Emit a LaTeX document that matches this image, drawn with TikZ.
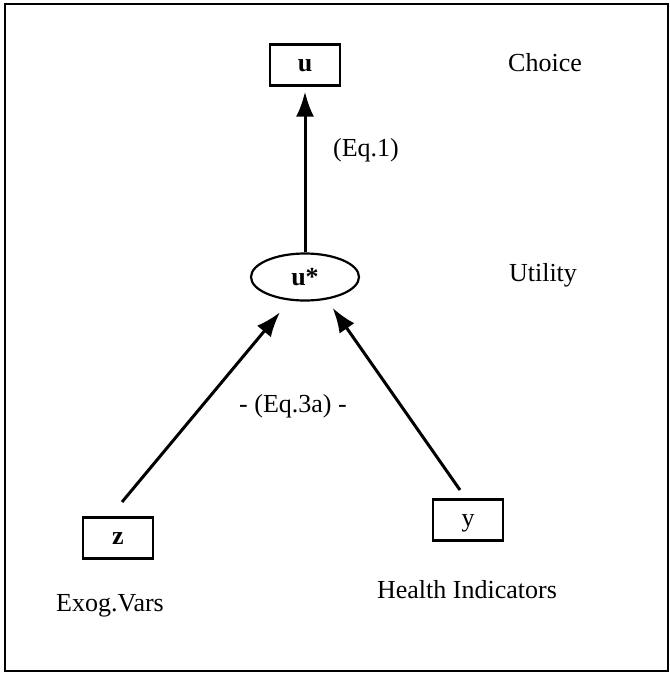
\documentclass[tikz,border=0pt]{standalone}
\usepackage{fontspec}
\setmainfont{Liberation Serif}
\usepackage{tikz}
\usetikzlibrary{arrows.meta,shapes.geometric}
\tikzstyle{Variable}=[minimum width=70pt, minimum height=41pt, inner sep=0pt, text height=12pt, text depth=0pt, fill=white, line width=2.2pt, draw=black, shape=rectangle, text=black, font=\fontsize{26}{30}\selectfont]
\tikzstyle{Latent}=[minimum width=108pt, minimum height=47pt, inner sep=0pt, fill=white, line width=2.2pt, draw=black, shape=ellipse, text=black, font=\fontsize{26}{30}\selectfont]
\tikzstyle{Label}=[inner sep=0pt, text=black, font=\fontsize{26}{30}\selectfont]
\tikzstyle{arrow}=[line width=3pt, -{Latex[length=25pt,width=18pt]}]
\pgfdeclarelayer{nodelayer}
\pgfdeclarelayer{edgelayer}
\pgfsetlayers{nodelayer, edgelayer}

\begin{document}
\begin{tikzpicture}[x=1pt, y=-1pt]
	\useasboundingbox (0,0) rectangle (670,673);
	\begin{pgfonlayer}{nodelayer}
		\node [style=Variable] (choice) at (305, 65) {\textbf{u}};
		\node [style=Latent] (utility) at (305, 277) {\textbf{u*}};
		\node [style=Variable] (exog) at (118, 538) {\textbf{z}};
		\node [style=Variable] (health) at (468, 520) {y};
		% side labels
		\node [style=Label] (choice_lbl) at (545, 63) {Choice};
		\node [style=Label] (utility_lbl) at (543, 275) {Utility};
		\node [style=Label] (exog_lbl) at (110, 606) {Exog.Vars};
		\node [style=Label] (health_lbl) at (467, 590) {Health Indicators};
		% equation labels
		\node [style=Label] (eq_one) at (366, 150) {(Eq.1)};
		\node [style=Label] (eq_three) at (293, 406) {- (Eq.3a) -};
		\coordinate (exog_tail) at (122, 502);
		\coordinate (health_tail) at (460, 490);
	\end{pgfonlayer}
	\begin{pgfonlayer}{edgelayer}
		\draw [style=arrow, shorten >=5pt] (utility.north) to (choice.south);
		\draw [style=arrow, shorten >=15pt] (exog_tail) to (utility.237);
		\draw [style=arrow, shorten >=10pt] (health_tail) to (utility.314);

		% frame
		\draw [draw=black, line width=2.5pt] (5,4) rectangle (668,671);
	\end{pgfonlayer}
\end{tikzpicture}
\end{document}
